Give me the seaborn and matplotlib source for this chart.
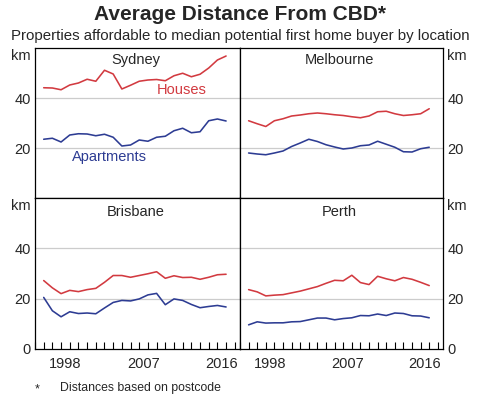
import numpy as np
import pandas as pd
import matplotlib
matplotlib.use("Agg")
import matplotlib.pyplot as plt
import seaborn as sns

sns.set_style("white")
plt.rcParams["font.family"] = ["Liberation Sans", "DejaVu Sans"]

years = list(range(1996, 2018))

sydney_houses = [44.1, 44.0, 43.3, 45.2, 46.0, 47.5, 46.7, 51.1, 49.6, 43.6, 45.1,
                 46.7, 47.2, 47.4, 46.9, 48.9, 49.9, 48.5, 49.5, 52.0, 55.2, 56.8]
sydney_apartments = [23.5, 23.9, 22.4, 25.2, 25.7, 25.6, 24.9, 25.5, 24.3, 20.8, 21.2,
                     23.2, 22.7, 24.3, 24.7, 26.9, 27.9, 26.1, 26.5, 30.9, 31.6, 30.8]
melbourne_houses = [30.9, 29.7, 28.6, 30.9, 31.7, 32.8, 33.2, 33.7, 34.0, 33.7, 33.3,
                    33.0, 32.5, 32.1, 32.8, 34.5, 34.7, 33.7, 33.0, 33.3, 33.7, 35.7]
melbourne_apartments = [18.0, 17.6, 17.3, 18.0, 18.8, 20.6, 22.0, 23.5, 22.6, 21.3, 20.4,
                        19.6, 20.0, 20.9, 21.2, 22.7, 21.5, 20.3, 18.5, 18.4, 19.7, 20.3]
brisbane_houses = [27.2, 24.3, 22.0, 23.3, 22.8, 23.6, 24.1, 26.5, 29.2, 29.2, 28.5,
                   29.2, 29.9, 30.7, 28.1, 29.1, 28.4, 28.5, 27.7, 28.5, 29.5, 29.7]
brisbane_apartments = [20.5, 15.2, 12.8, 14.8, 14.1, 14.3, 14.0, 16.3, 18.5, 19.3, 19.1,
                       19.9, 21.5, 22.1, 17.6, 19.9, 19.3, 17.7, 16.4, 16.9, 17.3, 16.7]
perth_houses = [23.6, 22.7, 21.1, 21.4, 21.6, 22.3, 23.0, 23.9, 24.8, 26.1, 27.3,
                27.1, 29.3, 26.4, 25.6, 28.9, 27.9, 27.1, 28.4, 27.7, 26.5, 25.2]
perth_apartments = [9.6, 10.8, 10.3, 10.4, 10.4, 10.8, 10.9, 11.6, 12.3, 12.3, 11.6,
                    12.1, 12.4, 13.3, 13.2, 13.9, 13.3, 14.3, 14.1, 13.2, 13.1, 12.4]

cities = ["Sydney", "Melbourne", "Brisbane", "Perth"]
series = {
    "Sydney": (sydney_houses, sydney_apartments),
    "Melbourne": (melbourne_houses, melbourne_apartments),
    "Brisbane": (brisbane_houses, brisbane_apartments),
    "Perth": (perth_houses, perth_apartments),
}

rows = []
for city in cities:
    houses, apartments = series[city]
    for y, h, a in zip(years, houses, apartments):
        rows.append({"city": city, "year": y, "type": "Houses", "km": h})
        rows.append({"city": city, "year": y, "type": "Apartments", "km": a})
df = pd.DataFrame(rows)

red = "#d23a40"
blue = "#2d3c93"
palette = {"Houses": red, "Apartments": blue}

fig = plt.figure(figsize=(4.81, 3.98), dpi=100)
W, H = 481, 398


def px_axes(x0, y0, x1, y1):
    return fig.add_axes([x0 / W, (H - y1) / H, (x1 - x0) / W, (y1 - y0) / H])


positions = {
    "Sydney": (35, 48, 240, 198),
    "Melbourne": (240, 48, 443, 198),
    "Brisbane": (35, 198, 240, 349),
    "Perth": (240, 198, 443, 349),
}

for i, city in enumerate(cities):
    ax = px_axes(*positions[city])
    sub = df[df["city"] == city]
    sns.lineplot(data=sub, x="year", y="km", hue="type", palette=palette,
                 ax=ax, linewidth=1.15, legend=False)
    ax.set_xlim(1995, 2018.6)
    ax.set_ylim(0, 60)
    ax.set_xlabel("")
    ax.set_ylabel("")
    ax.axhline(20, color="#cccccc", linewidth=0.9, zorder=0)
    ax.axhline(40, color="#cccccc", linewidth=0.9, zorder=0)
    for sp in ax.spines.values():
        sp.set_color("black")
        sp.set_linewidth(0.9)
        sp.set_visible(True)

    top = i < 2
    right = i % 2 == 1
    # unit label sits just under the top edge
    ax.set_yticks([0, 20, 40, 57.3])
    if top:
        ax.set_yticklabels(["", "20", "40", "km"])
    else:
        ax.set_yticklabels(["0", "20", "40", "km"])
    if right:
        ax.yaxis.tick_right()
    ax.tick_params(axis="y", length=0, labelsize=10.5, pad=3)

    if top:
        ax.set_xticks([])
    else:
        ax.set_xticks([1998.5, 2007.5, 2016.5])
        ax.set_xticklabels(["1998", "2007", "2016"])
        ax.set_xticks(range(1995, 2019), minor=True)
        ax.tick_params(axis="x", which="major", length=0, labelsize=10.5, pad=6)
        ax.tick_params(axis="x", which="minor", direction="in", length=5,
                       width=0.8, bottom=True, color="black")

    ax.text(0.49, 0.92 if top else 0.91, city, transform=ax.transAxes,
            ha="center", va="center", fontsize=10.5)

    if city == "Sydney":
        ax.text(2011.9, 43.2, "Houses", color=red, fontsize=10.5, ha="center", va="center")
        ax.text(2003.6, 16.5, "Apartments", color=blue, fontsize=10.5, ha="center", va="center")

fig.text(0.5, 1 - 15 / H, "Average Distance From CBD*", ha="center", va="center",
         fontsize=15, fontweight="bold")
fig.text(0.5, 1 - 36 / H, "Properties affordable to median potential first home buyer by location",
         ha="center", va="center", fontsize=10.8)
fig.text(35 / W, 1 - 389 / H, "*", ha="left", va="center", fontsize=9)
fig.text(60 / W, 1 - 388 / H, "Distances based on postcode", ha="left", va="center", fontsize=8.8)

fig.savefig("out.png", dpi=100)
